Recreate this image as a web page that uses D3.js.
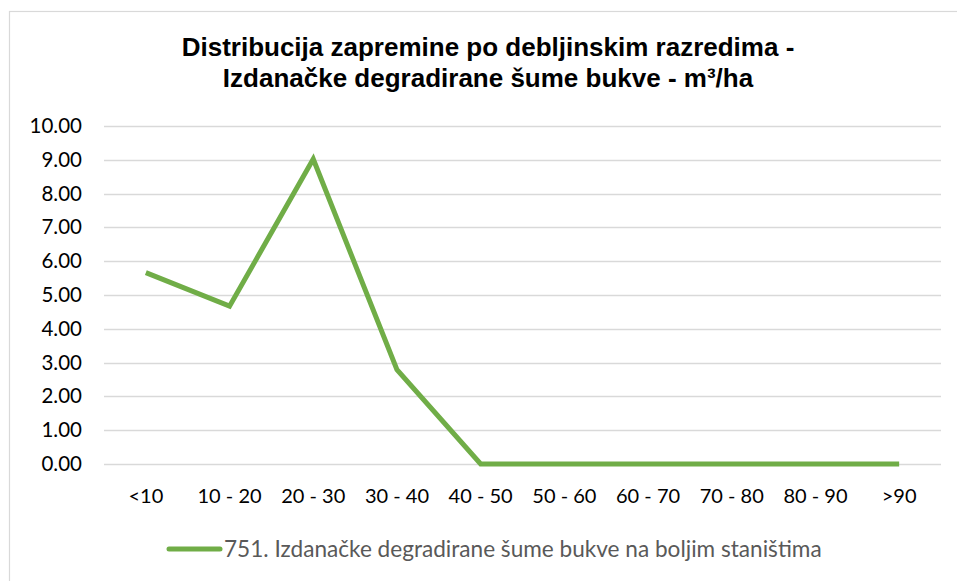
<!DOCTYPE html>
<html>
<head>
<meta charset="utf-8">
<script src="https://cdn.jsdelivr.net/npm/d3@7"></script>
<style>
  html, body { margin: 0; padding: 0; background: #fff; }
  svg { display: block; }
</style>
</head>
<body>
<svg id="chart" width="957" height="581"></svg>
<script>
// Diameter classes (cm) and volume per hectare
const categories = ["<10", "10 - 20", "20 - 30", "30 - 40", "40 - 50", "50 - 60", "60 - 70", "70 - 80", "80 - 90", ">90"];
const volumes = [5.66, 4.67, 9.02, 2.79, 0, 0, 0, 0, 0, 0];
const yTicks = [0, 1, 2, 3, 4, 5, 6, 7, 8, 9, 10];
const titleLines = ["Distribucija zapremine po debljinskim razredima -", "Izdanačke degradirane šume bukve - m³/ha"];
const seriesName = "751. Izdanačke degradirane šume bukve na boljim staništima";

const svg = d3.select("#chart");
const W = 957, H = 581;
const plot = { left: 104, right: 941, top: 126, bottom: 464 };
const labelFont = "Lato, 'Open Sans', sans-serif";
const green = "#70ad47";

// chart frame
svg.append("rect")
  .attr("x", 9.5).attr("y", 11.5)
  .attr("width", W + 10).attr("height", H + 10)
  .attr("fill", "#fff").attr("stroke", "#d9d9d9").attr("stroke-width", 1.2);

// title
const titleX = 488;
svg.append("text")
  .attr("x", titleX).attr("y", 56)
  .attr("text-anchor", "middle")
  .attr("font-family", "'Liberation Sans', Arial, sans-serif")
  .attr("font-weight", "bold").attr("font-size", 26)
  .attr("fill", "#000")
  .selectAll("tspan").data(titleLines).join("tspan")
  .attr("x", titleX).attr("dy", (d, i) => i === 0 ? 0 : 30.5)
  .text(d => d);

const x = d3.scaleBand().domain(categories).range([plot.left, plot.right]);
const y = d3.scaleLinear().domain([0, 10]).range([plot.bottom, plot.top]);

// horizontal gridlines
svg.append("g")
  .selectAll("line").data(yTicks).join("line")
  .attr("x1", plot.left).attr("x2", plot.right)
  .attr("y1", d => Math.round(y(d)) + 0.5).attr("y2", d => Math.round(y(d)) + 0.5)
  .attr("stroke", "#d9d9d9").attr("stroke-width", 1.5);

// y axis
const yAxis = svg.append("g")
  .attr("transform", `translate(${plot.left},0)`)
  .call(d3.axisLeft(y).tickValues(yTicks).tickFormat(d3.format(".2f")).tickSize(0).tickPadding(22));
yAxis.select(".domain").remove();
yAxis.selectAll("text")
  .attr("font-family", labelFont).attr("font-size", 20.5).attr("fill", "#000");

// x axis
const xAxis = svg.append("g")
  .attr("transform", `translate(0,${plot.bottom})`)
  .call(d3.axisBottom(x).tickSize(0).tickPadding(0));
xAxis.select(".domain").remove();
xAxis.selectAll("text")
  .attr("font-family", labelFont).attr("font-size", 20).attr("fill", "#000")
  .attr("dy", null).attr("y", 39);

// series line
const line = d3.line()
  .x((d, i) => x(categories[i]) + x.bandwidth() / 2)
  .y(d => y(d));
svg.append("path")
  .datum(volumes)
  .attr("d", line)
  .attr("fill", "none")
  .attr("stroke", green)
  .attr("stroke-width", 5)
  .attr("stroke-linejoin", "miter");

// legend
const legend = svg.append("g").attr("transform", "translate(169,549)");
legend.append("line")
  .attr("x1", 0).attr("x2", 51).attr("y1", 0).attr("y2", 0)
  .attr("stroke", green).attr("stroke-width", 5).attr("stroke-linecap", "round");
legend.append("text")
  .attr("x", 55).attr("y", 8)
  .attr("font-family", labelFont).attr("font-size", 22.6).attr("fill", "#595959")
  .text(seriesName);
</script>
</body>
</html>
